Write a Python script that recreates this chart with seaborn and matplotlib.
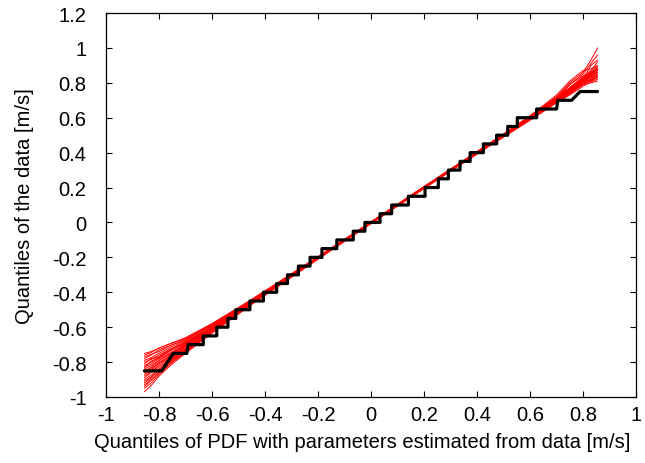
import numpy as np
import pandas as pd
import matplotlib
matplotlib.use("Agg")
import matplotlib.pyplot as plt
import seaborn as sns

# ---- data ----
# black staircase: data quantiles (quantised levels) vs. model quantiles
step_levels = [-0.85, -0.75, -0.70, -0.65, -0.60, -0.55, -0.50, -0.45, -0.40, -0.35,
               -0.30, -0.25, -0.20, -0.15, -0.10, -0.05, 0.00, 0.05, 0.10, 0.15,
               0.20, 0.25, 0.30, 0.35, 0.40, 0.45, 0.50, 0.55, 0.60, 0.65, 0.70, 0.75]
step_x_start = [-0.855, -0.746, -0.690, -0.633, -0.582, -0.540, -0.510, -0.457, -0.406, -0.356,
                -0.315, -0.274, -0.230, -0.185, -0.129, -0.067, -0.023, 0.034, 0.078, 0.141,
                0.204, 0.254, 0.292, 0.336, 0.374, 0.424, 0.474, 0.516, 0.552, 0.625, 0.705, 0.789]
step_x_end = [-0.790, -0.695, -0.633, -0.582, -0.540, -0.510, -0.457, -0.406, -0.356, -0.315,
              -0.274, -0.230, -0.185, -0.129, -0.067, -0.023, 0.034, 0.078, 0.141, 0.204,
              0.254, 0.292, 0.336, 0.374, 0.424, 0.474, 0.516, 0.552, 0.625, 0.700, 0.757, 0.855]

# red curves: simulated-sample quantiles at common model quantiles
sim_x = [-0.855, -0.83, -0.8, -0.75, -0.7, -0.6, -0.45, -0.2,
         0.2, 0.45, 0.6, 0.7, 0.75, 0.8, 0.83, 0.855]
sim_curves = [
    [-0.76, -0.745, -0.72, -0.69, -0.66, -0.580, -0.440, -0.195, 0.200, 0.445, 0.590, 0.690, 0.745, 0.800, 0.835, 0.860],
    [-0.78, -0.76, -0.73, -0.70, -0.67, -0.585, -0.445, -0.200, 0.205, 0.450, 0.600, 0.700, 0.755, 0.820, 0.850, 0.880],
    [-0.79, -0.775, -0.75, -0.71, -0.68, -0.590, -0.450, -0.200, 0.200, 0.455, 0.605, 0.710, 0.790, 0.840, 0.870, 0.920],
    [-0.80, -0.785, -0.76, -0.72, -0.69, -0.595, -0.445, -0.205, 0.195, 0.440, 0.585, 0.685, 0.730, 0.780, 0.805, 0.820],
    [-0.81, -0.78, -0.77, -0.72, -0.685, -0.600, -0.455, -0.200, 0.200, 0.450, 0.595, 0.700, 0.760, 0.810, 0.830, 0.850],
    [-0.82, -0.80, -0.775, -0.73, -0.695, -0.600, -0.450, -0.200, 0.200, 0.450, 0.600, 0.720, 0.800, 0.860, 0.930, 1.000],
    [-0.83, -0.81, -0.78, -0.74, -0.70, -0.605, -0.450, -0.200, 0.205, 0.455, 0.610, 0.720, 0.760, 0.830, 0.840, 0.870],
    [-0.84, -0.82, -0.79, -0.745, -0.70, -0.600, -0.455, -0.205, 0.200, 0.445, 0.595, 0.695, 0.740, 0.790, 0.815, 0.830],
    [-0.85, -0.83, -0.79, -0.75, -0.705, -0.605, -0.450, -0.200, 0.200, 0.450, 0.600, 0.705, 0.770, 0.815, 0.860, 0.875],
    [-0.86, -0.845, -0.80, -0.76, -0.71, -0.610, -0.455, -0.200, 0.200, 0.450, 0.605, 0.710, 0.775, 0.830, 0.865, 0.900],
    [-0.87, -0.85, -0.81, -0.765, -0.715, -0.610, -0.460, -0.205, 0.195, 0.445, 0.590, 0.690, 0.740, 0.800, 0.825, 0.845],
    [-0.88, -0.855, -0.82, -0.77, -0.72, -0.615, -0.455, -0.200, 0.200, 0.450, 0.600, 0.700, 0.765, 0.820, 0.835, 0.860],
    [-0.89, -0.86, -0.83, -0.775, -0.725, -0.620, -0.460, -0.200, 0.205, 0.455, 0.610, 0.715, 0.790, 0.850, 0.910, 0.960],
    [-0.90, -0.875, -0.84, -0.78, -0.73, -0.620, -0.460, -0.205, 0.200, 0.450, 0.600, 0.700, 0.750, 0.805, 0.845, 0.870],
    [-0.91, -0.885, -0.85, -0.79, -0.735, -0.625, -0.465, -0.210, 0.200, 0.450, 0.595, 0.695, 0.745, 0.800, 0.820, 0.840],
    [-0.93, -0.90, -0.86, -0.80, -0.74, -0.630, -0.465, -0.205, 0.200, 0.455, 0.605, 0.710, 0.770, 0.835, 0.855, 0.890],
    [-0.95, -0.92, -0.87, -0.80, -0.745, -0.625, -0.460, -0.200, 0.200, 0.450, 0.600, 0.700, 0.750, 0.810, 0.860, 0.880],
    [-0.97, -0.935, -0.88, -0.81, -0.75, -0.635, -0.470, -0.210, 0.195, 0.445, 0.595, 0.690, 0.735, 0.790, 0.815, 0.840],
    [-0.77, -0.755, -0.74, -0.70, -0.675, -0.585, -0.450, -0.200, 0.200, 0.450, 0.600, 0.705, 0.770, 0.820, 0.900, 0.930],
    [-0.83, -0.795, -0.77, -0.725, -0.69, -0.595, -0.450, -0.200, 0.200, 0.455, 0.605, 0.700, 0.745, 0.790, 0.800, 0.810],
    [-0.86, -0.835, -0.805, -0.755, -0.705, -0.600, -0.450, -0.200, 0.200, 0.450, 0.610, 0.730, 0.810, 0.870, 0.880, 0.900],
    [-0.94, -0.905, -0.86, -0.79, -0.735, -0.620, -0.460, -0.205, 0.205, 0.455, 0.600, 0.700, 0.755, 0.800, 0.845, 0.860],
    [-0.75, -0.74, -0.72, -0.69, -0.665, -0.580, -0.445, -0.200, 0.200, 0.450, 0.600, 0.705, 0.760, 0.825, 0.850, 0.885],
    [-0.92, -0.89, -0.845, -0.785, -0.73, -0.615, -0.455, -0.200, 0.200, 0.445, 0.595, 0.690, 0.740, 0.800, 0.810, 0.830],
]

x_ticks = [-1, -0.8, -0.6, -0.4, -0.2, 0, 0.2, 0.4, 0.6, 0.8, 1]
x_tick_labels = ["-1", "-0.8", "-0.6", "-0.4", "-0.2", "0", "0.2", "0.4", "0.6", "0.8", "1"]
y_ticks = [-1, -0.8, -0.6, -0.4, -0.2, 0, 0.2, 0.4, 0.6, 0.8, 1, 1.2]
y_tick_labels = ["-1", "-0.8", "-0.6", "-0.4", "-0.2", "0", "0.2", "0.4", "0.6", "0.8", "1", "1.2"]
x_label = "Quantiles of PDF with parameters estimated from data [m/s]"
y_label = "Quantiles of the data [m/s]"

# ---- tables ----
rows = []
for ci, ys in enumerate(sim_curves):
    for xv, yv in zip(sim_x, ys):
        rows.append((ci, xv, yv))
sim_df = pd.DataFrame(rows, columns=["curve", "x", "y"])

px, py = [], []
for lv, xs, xe in zip(step_levels, step_x_start, step_x_end):
    px += [xs, xe]
    py += [lv, lv]
step_df = pd.DataFrame({"x": px, "y": py})

# ---- plot ----
sns.set_theme(style="ticks")
plt.rcParams["font.family"] = ["Liberation Sans", "DejaVu Sans"]
plt.rcParams["text.color"] = "black"
plt.rcParams["axes.labelcolor"] = "black"

fig = plt.figure(figsize=(6.45, 4.64), dpi=100)
ax = fig.add_axes([106 / 645, 1 - 398 / 464, 530 / 645, 384 / 464])

sns.lineplot(data=sim_df, x="x", y="y", units="curve", estimator=None, sort=False,
             color="#ff0000", lw=0.7, ax=ax, legend=False)
sns.lineplot(data=step_df, x="x", y="y", estimator=None, sort=False,
             color="black", lw=2.3, ax=ax, legend=False)

ax.set_xlim(-1, 1)
ax.set_ylim(-1, 1.2)
ax.set_xticks(x_ticks)
ax.set_xticklabels(x_tick_labels)
ax.set_yticks(y_ticks)
ax.set_yticklabels(y_tick_labels)
ax.tick_params(direction="in", length=4.3, width=0.8, top=True, right=True,
               labelsize=14.5, colors="black")
ax.tick_params(axis="y", pad=14)
ax.tick_params(axis="x", pad=6)
for sp in ax.spines.values():
    sp.set_visible(True)
    sp.set_linewidth(0.9)
    sp.set_color("black")
ax.set_xlabel(x_label, fontsize=14.5, color="black")
ax.set_ylabel(y_label, fontsize=14.5, color="black")
ax.xaxis.set_label_coords(0.484, -0.092)
ax.yaxis.set_label_coords(-0.136, 0.5)
ax.grid(False)

fig.savefig("out.png", dpi=100)
